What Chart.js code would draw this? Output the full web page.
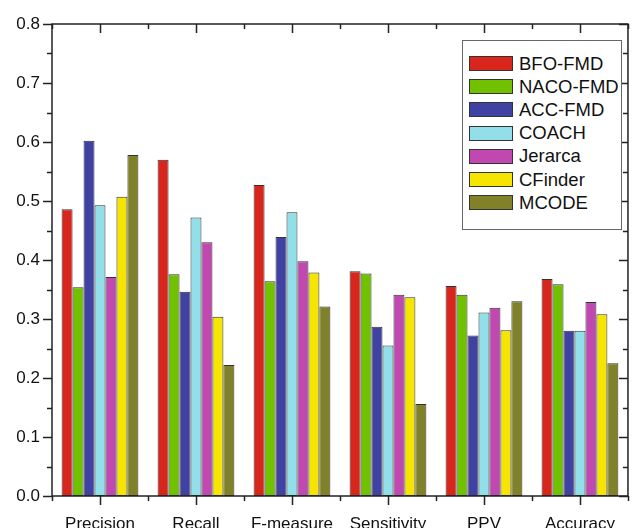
<!DOCTYPE html>
<html>
<head>
<meta charset="utf-8">
<script src="https://cdn.jsdelivr.net/npm/chart.js@4"></script>
<style>
  body { margin: 0; background: #fff; }
  #wrap { position: relative; width: 633px; height: 528px; }
  #legend {
    position: absolute; left: 462px; top: 40px; width: 160px; height: 190px;
    border: 1px solid #666; background: #fff; box-sizing: border-box;
    font-family: "Liberation Sans", Arial, sans-serif; font-size: 18.5px; color: #111;
    padding-top: 11px;
  }
  .item { display: flex; align-items: center; height: 23.2px; padding-left: 6px; }
  .sw { width: 44px; height: 15px; border: 1px solid #333; margin-right: 6px; box-sizing: border-box; }
</style>
</head>
<body>
<div id="wrap">
  <canvas id="chart" width="633" height="528"></canvas>
  <div id="legend"></div>
</div>
<script>
const categories = ['Precision', 'Recall', 'F-measure', 'Sensitivity', 'PPV', 'Accuracy'];
const seriesNames = ['BFO-FMD', 'NACO-FMD', 'ACC-FMD', 'COACH', 'Jerarca', 'CFinder', 'MCODE'];
const seriesColors = ['#d8261c', '#72c100', '#3f41a3', '#92dfe9', '#c147b1', '#f5e500', '#81812a'];

const bfoFmd = [0.486, 0.570, 0.527, 0.381, 0.356, 0.368];
const nacoFmd = [0.354, 0.376, 0.364, 0.377, 0.341, 0.359];
const accFmd = [0.602, 0.346, 0.439, 0.287, 0.272, 0.280];
const coach = [0.493, 0.472, 0.481, 0.255, 0.311, 0.280];
const jerarca = [0.371, 0.430, 0.398, 0.341, 0.319, 0.329];
const cfinder = [0.507, 0.304, 0.379, 0.337, 0.281, 0.308];
const mcode = [0.578, 0.222, 0.321, 0.156, 0.330, 0.225];

const seriesValues = [bfoFmd, nacoFmd, accFmd, coach, jerarca, cfinder, mcode];
const yTicks = [0, 0.1, 0.2, 0.3, 0.4, 0.5, 0.6, 0.7, 0.8];

// legend box
const legend = document.getElementById('legend');
seriesNames.forEach((name, i) => {
    const row = document.createElement('div');
    row.className = 'item';
    row.innerHTML = '<span class="sw" style="background:' + seriesColors[i] + '"></span>' + name;
    legend.appendChild(row);
});

// frame with ticks on all four sides
const framePlugin = {
    id: 'frame',
    afterDraw(chart) {
        const { ctx, chartArea: a, scales } = chart;
        const y = scales.y, x = scales.x;
        ctx.save();
        ctx.strokeStyle = '#222';
        ctx.lineWidth = 1.5;
        ctx.strokeRect(a.left, a.top, a.right - a.left, a.bottom - a.top);
        ctx.beginPath();
        for (let v = 0; v <= 0.8001; v += 0.05) {
            const py = Math.round(y.getPixelForValue(v)) + 0.5;
            const major = Math.abs(v * 10 - Math.round(v * 10)) < 0.01;
            const len = major ? 9 : 5;
            ctx.moveTo(a.left - len, py); ctx.lineTo(a.left, py);
            ctx.moveTo(a.right - len, py); ctx.lineTo(a.right, py);
        }
        const n = categories.length;
        for (let i = 0; i <= n; i++) {
            const px = Math.round(x.getPixelForValue(i - 0.5)) + 0.5;
            ctx.moveTo(px, a.bottom); ctx.lineTo(px, a.bottom + 5);
            ctx.moveTo(px, a.top); ctx.lineTo(px, a.top + 5);
        }
        for (let i = 0; i < n; i++) {
            const px = Math.round(x.getPixelForValue(i)) + 0.5;
            ctx.moveTo(px, a.bottom); ctx.lineTo(px, a.bottom + 9);
            ctx.moveTo(px, a.top); ctx.lineTo(px, a.top + 9);
        }
        ctx.stroke();
        ctx.restore();
    }
};

new Chart(document.getElementById('chart'), {
    type: 'bar',
    data: {
        labels: categories,
        datasets: seriesNames.map((name, i) => ({
            label: name,
            data: seriesValues[i],
            backgroundColor: seriesColors[i],
            borderColor: '#333',
            borderWidth: 1,
            borderSkipped: false,
            categoryPercentage: 0.8,
            barPercentage: 1
        }))
    },
    options: {
        responsive: false,
        animation: false,
        layout: { padding: { top: 24, right: 1, left: 0, bottom: 0 } },
        plugins: { legend: { display: false }, tooltip: { enabled: false } },
        scales: {
            x: {
                grid: { display: false, drawTicks: false },
                border: { display: false },
                ticks: { color: '#111', padding: 18, font: { family: 'Liberation Sans', size: 17 } },
                afterFit(s) { s.height = 32; }
            },
            y: {
                min: 0, max: 0.8,
                afterBuildTicks(s) { s.ticks = yTicks.map(v => ({ value: v })); },
                grid: { display: false, drawTicks: false },
                border: { display: false },
                ticks: {
                    color: '#111', padding: 12,
                    font: { family: 'Liberation Sans', size: 17 },
                    callback: v => v.toFixed(1)
                },
                afterFit(s) { s.width = 52; }
            }
        }
    },
    plugins: [framePlugin]
});
</script>
</body>
</html>
